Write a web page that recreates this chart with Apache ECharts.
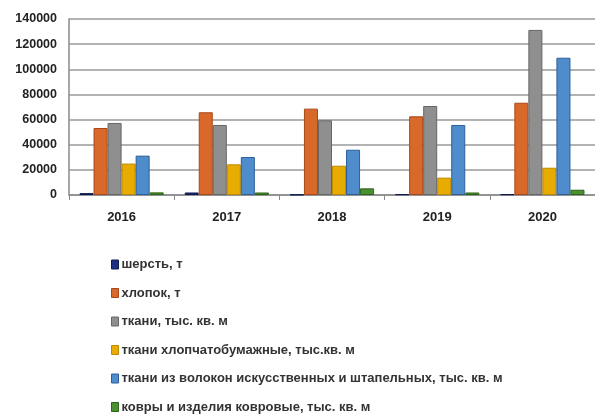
<!DOCTYPE html>
<html>
<head>
<meta charset="utf-8">
<script src="https://cdn.jsdelivr.net/npm/echarts@6/dist/echarts.min.js"></script>
<style>
	html, body { margin: 0; padding: 0; background: #fff; }
	#chart { width: 595px; height: 416px; }
</style>
</head>
<body>
<div id="chart"></div>
<script>
// годы
const years = ["2016", "2017", "2018", "2019", "2020"]
const seriesNames = [
	"шерсть, т",
	"хлопок, т",
	"ткани, тыс. кв. м",
	"ткани хлопчатобумажные, тыс.кв. м",
	"ткани из волокон искусственных и штапельных, тыс. кв. м",
	"ковры и изделия ковровые, тыс. кв. м"
]
const wool = [1500, 2000, 300, 600, 600]
const cotton = [53300, 65800, 68700, 62600, 73400]
const fabrics = [57300, 55700, 59400, 70800, 131300]
const cottonFabrics = [25000, 24400, 23300, 13800, 21700]
const synthFabrics = [31300, 30200, 36000, 55700, 109200]
const carpets = [2100, 2000, 5300, 2000, 4200]
const yTicks = [0, 20000, 40000, 60000, 80000, 100000, 120000, 140000]

const colors = ["#1c2f80", "#d9692b", "#8f8f8f", "#e8ab00", "#4f8ccb", "#4a9030"]
const borders = ["#0d1a50", "#a8481a", "#666666", "#bf8a00", "#2d5f99", "#2e6418"]
const values = [wool, cotton, fabrics, cottonFabrics, synthFabrics, carpets]

const chart = echarts.init(document.getElementById("chart"))

let series = []
for (let i = 0; i < values.length; i++) {
	series.push({
		type: "bar",
		name: seriesNames[i],
		data: values[i],
		barGap: "0%",
		barCategoryGap: "20%",
		itemStyle: {
			color: colors[i],
			borderColor: borders[i],
			borderWidth: 1
		}
	})
}

const option = {
	animation: false,
	backgroundColor: "#fff",
	textStyle: {
		fontFamily: "Liberation Sans, Arial, sans-serif"
	},
	grid: {
		left: 69,
		width: 532, // последняя категория уходит за край картинки
		top: 19,
		bottom: 221
	},
	legend: {
		orient: "vertical",
		left: 111,
		top: 258,
		height: 200, // чтобы легенда не переносилась во второй столбец
		padding: 0,
		itemWidth: 7,
		itemHeight: 9,
		itemGap: 15.5,
		icon: "rect",
		data: seriesNames.map((n, i) => ({
			name: n,
			itemStyle: { borderColor: borders[i], borderWidth: 1 }
		})),
		textStyle: {
			fontSize: 13,
			fontWeight: "bold",
			color: "#333",
			padding: [0, 0, 0, -2]
		}
	},
	xAxis: {
		type: "category",
		data: years,
		axisLine: {
			lineStyle: { color: "#8a8a8a", width: 1.5 }
		},
		axisTick: {
			show: true,
			length: 5,
			lineStyle: { color: "#8a8a8a" }
		},
		axisLabel: {
			margin: 16,
			fontSize: 13,
			fontWeight: "bold",
			color: "#222"
		}
	},
	yAxis: {
		type: "value",
		min: yTicks[0],
		max: yTicks[yTicks.length - 1],
		interval: 20000,
		axisLine: {
			show: true,
			lineStyle: { color: "#8a8a8a", width: 1.5 }
		},
		axisTick: { show: false },
		axisLabel: {
			margin: 12,
			fontSize: 12.5,
			fontWeight: "bold",
			color: "#222",
			formatter: (v) => String(v)
		},
		splitLine: {
			lineStyle: { color: "#9a9a9a", width: 1.5 }
		}
	},
	series: series
}

chart.setOption(option)
</script>
</body>
</html>
